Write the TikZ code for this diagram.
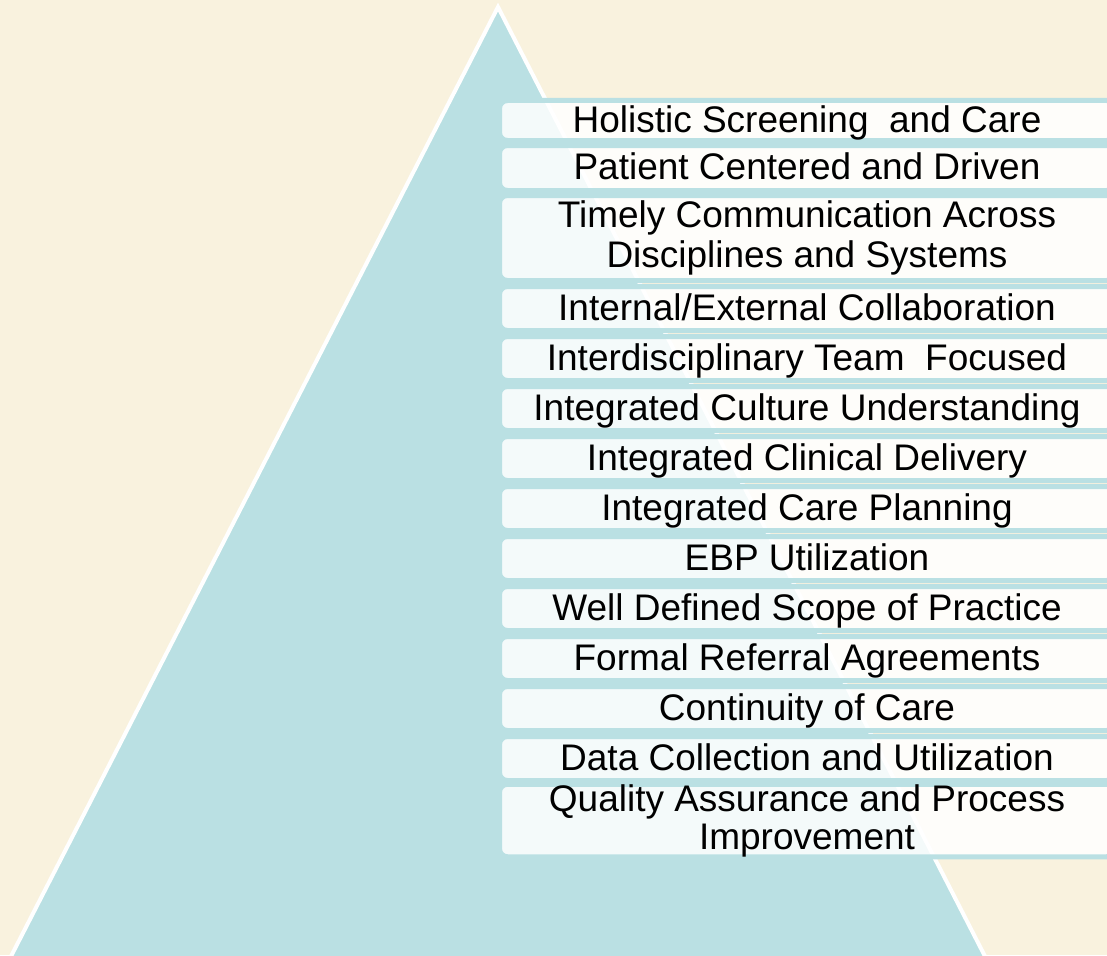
\documentclass[tikz,border=0pt]{standalone}
\usepackage{fontspec}
\setmainfont{Liberation Sans}
\usepackage{xcolor}
\usetikzlibrary{positioning}
\definecolor{paper}{RGB}{249,242,222}
\definecolor{pyrblue}{RGB}{186,224,227}
\tikzset{
  tier/.style={rounded corners=8pt, draw=pyrblue, line width=5pt, fill=white, fill opacity=0.85,
    draw opacity=1, text opacity=1, inner sep=0pt, minimum width=615pt, align=center,
    font=\fontsize{37}{40}\selectfont},
  onerow/.style={tier, minimum height=44pt, text height=31pt, text depth=8pt},
}
\begin{document}
\begin{tikzpicture}[x=1pt,y=-1pt]
    \useasboundingbox (0,0) rectangle (1107,955);
    \clip (0,0) rectangle (1107,955);
    \fill[paper] (0,0) rectangle (1107,955);
    % pyramid
    \filldraw[fill=pyrblue, draw=white, line width=4pt] (498,7) -- (1007.4,1000) -- (-11.4,1000) -- cycle;
    % tiers
    \node[onerow, minimum height=40pt] (holistic) at (807,120.5) {Holistic Screening\ \ and Care};
    \node[onerow, minimum height=45pt] (patient) at (807,168) {Patient Centered and Driven};
    \node[tier, minimum height=85pt] (timely) at (807,238) {Timely Communication Across\\Disciplines and Systems};
    \node[onerow] (collab) at (807,308.5) {Internal/External Collaboration};
    \node[onerow] (team) at (807,358.5) {Interdisciplinary Team\ \ Focused};
    \node[onerow] (culture) at (807,408.5) {Integrated Culture Understanding};
    \node[onerow] (clinical) at (807,458.5) {Integrated Clinical Delivery};
    \node[onerow] (planning) at (807,508.5) {Integrated Care Planning};
    \node[onerow] (ebp) at (807,558.5) {EBP Utilization};
    \node[onerow] (scope) at (807,608.5) {Well Defined Scope of Practice};
    \node[onerow] (referral) at (807,658.5) {Formal Referral Agreements};
    \node[onerow] (continuity) at (807,708.5) {Continuity of Care};
    \node[onerow] (data) at (807,758.5) {Data Collection and Utilization};
    \node[tier, minimum height=68pt, font=\fontsize{37}{38}\selectfont] (quality) at (807,820.5) {Quality Assurance and Process\\Improvement};
\end{tikzpicture}
\end{document}
